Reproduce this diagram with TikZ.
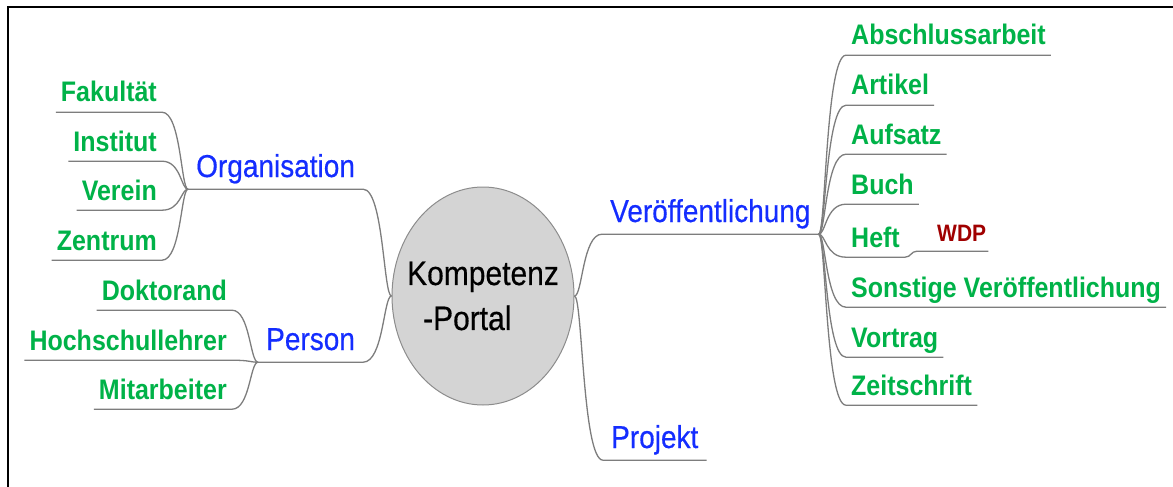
\documentclass[tikz,border=0pt]{standalone}
\usepackage{fontspec}
\setmainfont{Liberation Sans}
\newfontfamily\topicfont{Liberation Sans}[FakeBold=0.5]
\usepackage{graphicx}
\usetikzlibrary{calc,shapes.geometric}
\definecolor{leafgreen}{RGB}{0,178,72}
\definecolor{topicblue}{RGB}{20,45,255}
\definecolor{wdpred}{RGB}{160,0,0}
\definecolor{linegray}{RGB}{125,125,125}
\definecolor{hubfill}{RGB}{212,212,212}
\definecolor{hubdraw}{RGB}{140,140,140}
\newcommand\sx[1]{\scalebox{1}[1.13]{#1}}
% child node, start anchor, end anchor, parent point, dx
\newcommand\mmleaf[5]{\draw[conn] (#1.#2) -- (#1.#3) .. controls ($(#4|-#1.#3)+(#5,0)$) and ($(#4)+(#5,0)$) .. (#4);}
\tikzset{
  leafnode/.style={text=leafgreen, font=\bfseries\fontsize{25}{30}\selectfont, inner xsep=5pt, inner ysep=5pt, text depth=5pt},
  topicnode/.style={text=topicblue, font=\topicfont\fontsize{28}{33}\selectfont, inner xsep=8pt, inner ysep=7pt, text depth=5pt},
  notenode/.style={text=wdpred, font=\bfseries\fontsize{21}{25}\selectfont, inner xsep=2pt, inner ysep=5pt, text depth=5pt},
  conn/.style={draw=linegray, line width=1.3pt},
  hubnode/.style={ellipse, draw=hubdraw, fill=hubfill, line width=1pt, minimum width=182pt, minimum height=218pt, inner xsep=-40pt, inner ysep=-20pt, align=left, font=\topicfont\fontsize{30}{45}\selectfont}
}
\begin{document}
\begin{tikzpicture}[x=1pt,y=-1pt]
\useasboundingbox (0,0) rectangle (1173,487);
\draw[line width=1.6pt] (1173,7) -- (8,7) -- (8,487);

% hub
\node[hubnode] (hub) at (483,296) {\sx{Kompetenz}\\\hspace*{16pt}\sx{-Portal}};

% left topics
\node[topicnode, anchor=base west] (org) at (188,177) {\sx{Organisation}};
\node[topicnode, anchor=base west] (per) at (258,350) {\sx{Person}};
% right topics
\node[topicnode, anchor=base west] (ver) at (602,222) {\sx{Veröffentlichung}};
\node[topicnode, anchor=base west] (pro) at (603,448) {\sx{Projekt}};

% Organisation leaves
\node[leafnode, anchor=base east] (fak) at (162,102) {\sx{Fakultät}};
\node[leafnode, anchor=base east] (ins) at (162,151) {\sx{Institut}};
\node[leafnode, anchor=base east] (ver2) at (162,200) {\sx{Verein}};
\node[leafnode, anchor=base east] (zen) at (162,250) {\sx{Zentrum}};

% Person leaves
\node[leafnode, anchor=base east] (dok) at (232,300) {\sx{Doktorand}};
\node[leafnode, anchor=base east] (hsl) at (232,350) {\sx{Hochschullehrer}};
\node[leafnode, anchor=base east] (mit) at (232,399) {\sx{Mitarbeiter}};

% Veröffentlichung leaves
\node[leafnode, anchor=base west] (abs) at (846,45) {\sx{Abschlussarbeit}};
\node[leafnode, anchor=base west] (art) at (846,95) {\sx{Artikel}};
\node[leafnode, anchor=base west] (auf) at (846,144) {\sx{Aufsatz}};
\node[leafnode, anchor=base west] (buch) at (846,194) {\sx{Buch}};
\node[leafnode, anchor=base west] (heft) at (846,247) {\sx{Heft}};
\node[notenode, anchor=base west] (wdp) at (935,241) {\sx{WDP}};
\node[leafnode, anchor=base west] (son) at (846,297) {\sx{Sonstige Veröffentlichung}};
\node[leafnode, anchor=base west] (vor) at (846,347) {\sx{Vortrag}};
\node[leafnode, anchor=base west] (zei) at (846,395) {\sx{Zeitschrift}};

% hub connectors
\mmleaf{org}{south west}{south east}{hub.west}{-8}
\mmleaf{per}{south west}{south east}{hub.west}{-8}
\mmleaf{ver}{south east}{south west}{hub.east}{8}
\mmleaf{pro}{south east}{south west}{hub.east}{8}

% Organisation children
\mmleaf{fak}{south west}{south east}{org.south west}{-7}
\mmleaf{ins}{south west}{south east}{org.south west}{-7}
\mmleaf{ver2}{south west}{south east}{org.south west}{-7}
\mmleaf{zen}{south west}{south east}{org.south west}{-7}

% Person children
\mmleaf{dok}{south west}{south east}{per.south west}{-8}
\mmleaf{hsl}{south west}{south east}{per.south west}{-8}
\mmleaf{mit}{south west}{south east}{per.south west}{-8}

% Veröffentlichung children
\mmleaf{abs}{south east}{south west}{ver.south east}{7}
\mmleaf{art}{south east}{south west}{ver.south east}{7}
\mmleaf{auf}{south east}{south west}{ver.south east}{7}
\mmleaf{buch}{south east}{south west}{ver.south east}{7}
\mmleaf{heft}{south east}{south west}{ver.south east}{7}
\mmleaf{son}{south east}{south west}{ver.south east}{7}
\mmleaf{vor}{south east}{south west}{ver.south east}{7}
\mmleaf{zei}{south east}{south west}{ver.south east}{7}

% Heft -> WDP
\coordinate (wdpl) at ($(wdp.south west)+(-18,0)$);
\draw[conn] (heft.south east) .. controls +(6,0) and +(-6,0) .. (wdpl) -- (wdp.south east);
\end{tikzpicture}
\end{document}
